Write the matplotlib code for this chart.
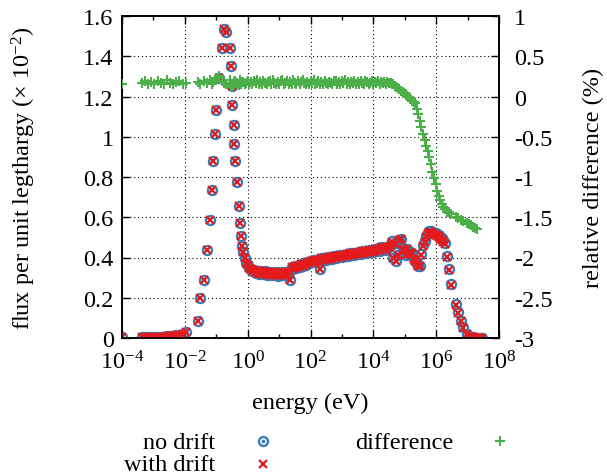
import numpy as np
import matplotlib
matplotlib.use('Agg')
import matplotlib.pyplot as plt
from matplotlib.lines import Line2D
from matplotlib.ticker import FixedLocator, FuncFormatter, NullFormatter

plt.rcParams['font.family'] = ['Liberation Serif', 'DejaVu Serif']
plt.rcParams['mathtext.fontset'] = 'custom'
plt.rcParams['mathtext.rm'] = 'Liberation Serif'
plt.rcParams['mathtext.it'] = 'Liberation Serif:italic'
plt.rcParams['axes.unicode_minus'] = False

# ---------------- data (energy as log10 of eV) ----------------
log10_energy = [
    -4.00,
    -3.37, -3.27, -3.17, -3.07, -2.97, -2.87, -2.77, -2.67, -2.57, -2.47,
    -2.37, -2.27, -2.17, -2.07, -1.97,
    -1.595, -1.51, -1.395, -1.30, -1.21, -1.145, -1.10, -1.055, -0.993, -0.90,
    -0.82, -0.75, -0.68, -0.575, -0.545, -0.51, -0.483, -0.448, -0.426, -0.404,
    -0.34, -0.29, -0.25, -0.222, -0.19,
    -0.15, -0.10, -0.05, 0.00, 0.05, 0.10, 0.15, 0.20, 0.25, 0.30,
    0.35, 0.40, 0.45, 0.50, 0.55, 0.60, 0.65, 0.70, 0.75, 0.80,
    0.85, 0.90, 0.95, 1.00, 1.05, 1.10, 1.15, 1.20, 1.25, 1.30,
    1.35, 1.40, 1.45, 1.50, 1.55, 1.60, 1.65, 1.70, 1.75, 1.80,
    1.85, 1.90, 1.95, 2.00, 2.05, 2.10, 2.15, 2.20, 2.25, 2.30,
    2.35, 2.40, 2.45, 2.50, 2.55, 2.60, 2.65, 2.70, 2.75, 2.80,
    2.85, 2.90, 2.95, 3.00, 3.05, 3.10, 3.15, 3.20, 3.25, 3.30,
    3.35, 3.40, 3.45, 3.50, 3.55, 3.60, 3.65, 3.70, 3.75, 3.80,
    3.85, 3.90, 3.95, 4.00, 4.05, 4.10, 4.15, 4.20, 4.25, 4.30,
    4.35, 4.40, 4.45,
    4.50, 4.55, 4.60, 4.63, 4.68, 4.73, 4.78, 4.83, 4.88, 4.93,
    4.98, 5.03, 5.08, 5.13, 5.18, 5.23, 5.28, 5.33, 5.38, 5.43,
    5.48, 5.53, 5.58, 5.63, 5.68, 5.73, 5.78, 5.83, 5.88, 5.93,
    5.98, 6.03, 6.08, 6.13, 6.18, 6.23, 6.28, 6.36, 6.42, 6.46,
    6.63, 6.68, 6.79, 6.86, 6.97, 7.03, 7.10, 7.17, 7.24, 7.31,
    7.38, 7.45,
]

flux_no_drift = [
    0.004,
    0.004, 0.004, 0.005, 0.005, 0.005, 0.006, 0.006, 0.007, 0.008, 0.009,
    0.011, 0.013, 0.016, 0.020, 0.028,
    0.086, 0.199, 0.290, 0.438, 0.587, 0.736, 0.881, 1.016, 1.134, 1.290,
    1.440, 1.535, 1.520, 1.441, 1.353, 1.250, 1.158, 1.058, 0.964, 0.879,
    0.774, 0.657, 0.571, 0.508, 0.459,
    0.425, 0.396, 0.374, 0.362, 0.348, 0.345, 0.332, 0.338, 0.324, 0.334,
    0.320, 0.331, 0.317, 0.329, 0.334, 0.314, 0.327, 0.313, 0.328, 0.311,
    0.324, 0.326, 0.310, 0.325, 0.313, 0.328, 0.312, 0.326, 0.314, 0.330,
    0.287, 0.352, 0.344, 0.357, 0.350, 0.360, 0.354, 0.367, 0.360, 0.370,
    0.364, 0.377, 0.372, 0.382, 0.376, 0.386, 0.380, 0.390, 0.384, 0.345,
    0.396, 0.386, 0.399, 0.390, 0.401, 0.393, 0.404, 0.395, 0.407, 0.398,
    0.409, 0.401, 0.412, 0.403, 0.414, 0.406, 0.417, 0.408, 0.420, 0.410,
    0.422, 0.413, 0.424, 0.416, 0.427, 0.418, 0.430, 0.421, 0.432, 0.424,
    0.435, 0.426, 0.438, 0.429, 0.440, 0.431, 0.443, 0.434, 0.452, 0.440,
    0.447, 0.438, 0.452,
    0.452, 0.462, 0.480, 0.400, 0.470, 0.383, 0.410, 0.488, 0.492, 0.445,
    0.432, 0.410, 0.440, 0.415, 0.428, 0.424, 0.395, 0.383, 0.372, 0.360,
    0.358, 0.416, 0.460, 0.482, 0.505, 0.520, 0.532, 0.530, 0.528, 0.523,
    0.520, 0.515, 0.510, 0.500, 0.495, 0.485, 0.474, 0.407, 0.341, 0.268,
    0.169, 0.128, 0.086, 0.053, 0.020, 0.006, 0.004, 0.003, 0.002, 0.002,
    0.001, 0.001,
]

flux_with_drift = [
    0.004,
    0.004, 0.004, 0.005, 0.005, 0.005, 0.006, 0.006, 0.007, 0.008, 0.009,
    0.011, 0.013, 0.016, 0.020, 0.028,
    0.086, 0.199, 0.290, 0.438, 0.587, 0.736, 0.881, 1.016, 1.134, 1.290,
    1.440, 1.535, 1.520, 1.441, 1.353, 1.250, 1.158, 1.058, 0.964, 0.879,
    0.774, 0.657, 0.571, 0.508, 0.459,
    0.425, 0.396, 0.374, 0.362, 0.348, 0.345, 0.332, 0.338, 0.324, 0.334,
    0.320, 0.331, 0.317, 0.329, 0.334, 0.314, 0.327, 0.313, 0.328, 0.311,
    0.324, 0.326, 0.310, 0.325, 0.313, 0.328, 0.312, 0.326, 0.314, 0.330,
    0.287, 0.352, 0.344, 0.357, 0.350, 0.360, 0.354, 0.367, 0.360, 0.370,
    0.364, 0.377, 0.372, 0.382, 0.376, 0.386, 0.380, 0.390, 0.384, 0.345,
    0.396, 0.386, 0.399, 0.390, 0.401, 0.393, 0.404, 0.395, 0.407, 0.398,
    0.409, 0.401, 0.412, 0.403, 0.414, 0.406, 0.417, 0.408, 0.420, 0.410,
    0.422, 0.413, 0.424, 0.416, 0.427, 0.418, 0.430, 0.421, 0.432, 0.424,
    0.435, 0.426, 0.438, 0.429, 0.440, 0.431, 0.443, 0.434, 0.452, 0.440,
    0.447, 0.438, 0.452,
    0.452, 0.462, 0.479, 0.400, 0.469, 0.383, 0.410, 0.487, 0.491, 0.444,
    0.431, 0.410, 0.440, 0.415, 0.428, 0.424, 0.395, 0.383, 0.371, 0.359,
    0.357, 0.414, 0.458, 0.479, 0.502, 0.516, 0.528, 0.526, 0.523, 0.518,
    0.514, 0.509, 0.504, 0.494, 0.488, 0.478, 0.467, 0.401, 0.336, 0.264,
    0.166, 0.126, 0.085, 0.052, 0.020, 0.006, 0.004, 0.003, 0.002, 0.002,
    0.001, 0.001,
]

rel_difference = [
    0.155,
    0.17, 0.19, 0.16, 0.18, 0.15, 0.19, 0.17, 0.16, 0.20, 0.17,
    0.15, 0.18, 0.19, 0.16, 0.17,
    0.18, 0.15, 0.19, 0.17, 0.20, 0.16, 0.18, 0.21, 0.23, 0.26,
    0.19, 0.17, 0.15, 0.20, 0.14, 0.16, 0.12, 0.18, 0.15, 0.19,
    0.17, 0.14, 0.20, 0.16, 0.18,
    0.18, 0.16, 0.17, 0.19, 0.15, 0.18, 0.15, 0.19, 0.17, 0.20,
    0.16, 0.18, 0.15, 0.19, 0.17, 0.15, 0.18, 0.19, 0.16, 0.20,
    0.17, 0.15, 0.18, 0.16, 0.19, 0.20, 0.15, 0.17, 0.19, 0.16,
    0.18, 0.15, 0.20, 0.17, 0.16, 0.19, 0.15, 0.18, 0.20, 0.17,
    0.15, 0.18, 0.15, 0.19, 0.17, 0.20, 0.16, 0.17, 0.19, 0.15,
    0.18, 0.16, 0.19, 0.17, 0.15, 0.18, 0.17, 0.15, 0.19, 0.19,
    0.16, 0.18, 0.15, 0.19, 0.17, 0.20, 0.16, 0.18, 0.15, 0.18,
    0.17, 0.19, 0.16, 0.18, 0.15, 0.19, 0.17, 0.16, 0.19, 0.18,
    0.16, 0.17, 0.19, 0.16, 0.18, 0.17, 0.19, 0.16, 0.18, 0.17,
    0.18, 0.16, 0.18,
    0.17, 0.17, 0.16, 0.15, 0.13, 0.115, 0.10, 0.09, 0.07, 0.055,
    0.045, 0.03, 0.01, -0.01, -0.035, -0.05, -0.065, -0.08, -0.15, -0.22,
    -0.31, -0.38, -0.46, -0.54, -0.61, -0.68, -0.755, -0.84, -0.94, -1.01,
    -1.09, -1.17, -1.24, -1.29, -1.34, -1.37, -1.40, -1.43, -1.44, -1.46,
    -1.50, -1.51, -1.53, -1.55, -1.57, -1.58, -1.60, -1.62, -1.63, -1.64,
    np.nan, np.nan,
]

x_tick_exponents = [-4, -2, 0, 2, 4, 6, 8]
x_minor_exponents = [-3, -1, 1, 3, 5, 7]
y_left_ticks = [0, 0.2, 0.4, 0.6, 0.8, 1.0, 1.2, 1.4, 1.6]
y_right_ticks = [-3, -2.5, -2, -1.5, -1, -0.5, 0, 0.5, 1]

BLUE = '#377eb8'
RED = '#e41a1c'
GREEN = '#4daf4a'
FS = 17.5

energy = 10.0 ** np.array(log10_energy)

W, H = 607, 477
fig = plt.figure(figsize=(W / 100, H / 100), dpi=100)
L, R, T, B = 122, 499, 17, 339
ax = fig.add_axes([L / W, 1 - B / H, (R - L) / W, (B - T) / H])
ax2 = ax.twinx()

ax.plot(energy, flux_no_drift, linestyle='none', marker='o', mfc='none',
        mec=BLUE, ms=6.5, mew=1.7, zorder=3)
ax.plot(energy, flux_with_drift, linestyle='none', marker='x', color=RED,
        ms=5.8, mew=1.6, zorder=4)
ax2.plot(energy, rel_difference, linestyle='none', marker='+', color=GREEN,
         ms=7.8, mew=1.5, zorder=5)

ax.set_xscale('log')
ax.set_xlim(1e-4, 1e8)
ax.set_ylim(0, 1.6)
ax2.set_ylim(-3, 1)

ax.xaxis.set_major_locator(FixedLocator([10.0 ** e for e in x_tick_exponents]))
ax.xaxis.set_minor_locator(FixedLocator([10.0 ** e for e in x_minor_exponents]))
ax.xaxis.set_major_formatter(FuncFormatter(lambda v, p: r'$10^{%d}$' % int(round(np.log10(v)))))
ax.xaxis.set_minor_formatter(NullFormatter())
ax.yaxis.set_major_locator(FixedLocator(y_left_ticks))
ax.yaxis.set_major_formatter(FuncFormatter(lambda v, p: '%g' % v))
ax2.yaxis.set_major_locator(FixedLocator(y_right_ticks))
ax2.yaxis.set_major_formatter(FuncFormatter(lambda v, p: '%g' % v))

ax.tick_params(axis='x', which='major', direction='in', top=True, length=6,
               width=1.0, labelsize=FS, pad=9)
ax.tick_params(axis='x', which='minor', direction='in', top=True, length=3,
               width=1.0)
ax.tick_params(axis='y', which='major', direction='in', left=True, right=False,
               length=6, width=1.0, labelsize=FS, pad=6)
ax2.tick_params(axis='y', which='major', direction='in', right=True, length=6,
                width=1.0, labelsize=FS, pad=11)

ax.grid(True, which='major', color='black', linestyle=(0, (1, 2.5)), linewidth=0.8)
ax.set_axisbelow(True)
for a in (ax, ax2):
    for s in a.spines.values():
        s.set_linewidth(1.2)

ax.set_xlabel('energy (eV)', fontsize=FS)
ax.xaxis.set_label_coords(0.5, -0.168)
ax.set_ylabel(r'flux per unit legthargy ($\times$ 10$^{-2}$)', fontsize=FS)
ax.yaxis.set_label_coords(-0.222, 0.5)
ax2.set_ylabel('relative difference (%)', fontsize=FS, rotation=90)
ax2.yaxis.set_label_coords(1.222, 0.5)


def fx(x):
    return x / W


def fy(y):
    return 1 - y / H


fig.text(fx(215), fy(449), 'no drift', ha='right', va='baseline', fontsize=FS)
fig.text(fx(215), fy(471), 'with drift', ha='right', va='baseline', fontsize=FS)
fig.text(fx(453), fy(449), 'difference', ha='right', va='baseline', fontsize=FS)
fig.add_artist(Line2D([fx(263)], [fy(442)], marker='o', mfc='none', mec=BLUE,
                      ms=6.5, mew=1.7, transform=fig.transFigure))
fig.add_artist(Line2D([fx(263)], [fy(442)], marker='o', color=BLUE, ms=1.6,
                      transform=fig.transFigure))
fig.add_artist(Line2D([fx(263)], [fy(465)], marker='x', color=RED,
                      ms=5.8, mew=1.6, transform=fig.transFigure))
fig.add_artist(Line2D([fx(500)], [fy(442)], marker='+', color=GREEN,
                      ms=7.8, mew=1.5, transform=fig.transFigure))

fig.savefig('out.png', dpi=100)
